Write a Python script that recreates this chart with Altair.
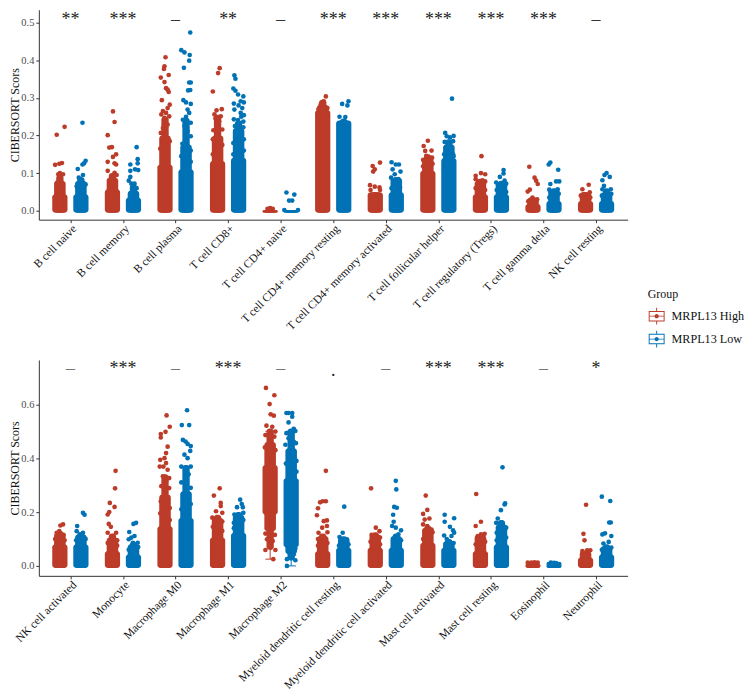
import altair as alt
import pandas as pd

HIGH, LOW = "MRPL13 High", "MRPL13 Low"
RED, BLUE = "#BC3C29", "#0072B5"

cats_top = ["B cell naive", "B cell memory", "B cell plasma", "T cell CD8+", "T cell CD4+ naive",
            "T cell CD4+ memory resting", "T cell CD4+ memory activated", "T cell follicular helper",
            "T cell regulatory (Tregs)", "T cell gamma delta", "NK cell resting"]
cats_bot = ["NK cell activated", "Monocyte", "Macrophage M0", "Macrophage M1", "Macrophage M2",
            "Myeloid dendritic cell resting", "Myeloid dendritic cell activated", "Mast cell activated",
            "Mast cell resting", "Eosinophil", "Neutrophil"]
sig_top = ["**", "***", "–", "**", "–", "***", "***", "***", "***", "***", "–"]
sig_bot = ["–", "***", "–", "***", "–", "·", "–", "***", "***", "–", "*"]

# densely overplotted stretches of each column: upper limit at full, medium and narrow width
top_hi_full = [.044, .057, .123, .132, .002, .268, .049, .106, .044, .018, .026]
top_hi_mid = [.080, .088, .200, .200, .002, .282, .049, .140, .080, .035, .049]
top_hi_nar = [.095, .100, .250, .255, .002, .295, .049, .150, .085, .035, .049]
top_lo_full = [.044, .035, .110, .141, .002, .240, .049, .140, .044, .026, .026]
top_lo_mid = [.080, .053, .176, .220, .002, .240, .088, .176, .075, .057, .049]
top_lo_nar = [.090, .070, .247, .240, .002, .245, .090, .190, .080, .060, .060]

bot_hi_full = [.080, .055, .148, .105, .375, .055, .068, .086, .055, .008, .031]
bot_hi_mid = [.123, .105, .265, .179, .460, .111, .117, .142, .115, .008, .055]
bot_hi_nar = [.130, .120, .340, .190, .510, .120, .125, .150, .115, .008, .055]
bot_lo_full = [.080, .043, .179, .123, .326, .068, .068, .068, .080, .004, .043]
bot_lo_mid = [.117, .080, .277, .190, .437, .105, .111, .092, .154, .004, .074]
bot_lo_nar = [.125, .090, .375, .200, .510, .110, .120, .100, .170, .004, .080]

# lower limits of the dense stretches for Macrophage M2, the only column that lifts off zero
m2_hi_low = [.190, .129, .060]
m2_lo_low = [.068, .043, .020]

# whiskers of Macrophage M2 boxes: (group, low end, high end)
m2_whiskers = [(HIGH, .025, .500), (LOW, .000, .500)]

# sparse points of each column, (score, sideways jitter in category units)
pts_top_hi = [
    [(.202, -.06), (.223, .09), (.122, -.09), (.125, -.01), (.127, .04), (.100, 0), (.097, .06), (.097, -.03), (.075, -.05), (.070, .05)],
    [(.264, .01), (.236, .04), (.201, -.09), (.168, -.06), (.169, -.01), (.150, .07), (.143, .01), (.126, .04), (.123, .07), (.130, -.09), (.106, -.09), (.101, .04), (.095, .08)],
    [(.408, .01), (.384, -.01), (.377, -.02), (.361, .07), (.354, -.08), (.342, -.01), (.326, .02), (.322, .05), (.316, .07), (.294, -.06), (.282, .09), (.273, .05), (.265, -.04), (.260, .02), (.256, -.07), (.247, -.01), (.251, .08), (.229, .05), (.220, -.04), (.207, .02), (.207, -.08), (.185, .09), (.165, -.09)],
    [(.379, .04), (.366, .01), (.317, -.09), (.270, .08), (.267, -.02), (.256, -.06), (.251, .06), (.238, .03), (.245, -.04), (.214, -.08), (.216, .09), (.190, -.09), (.175, .09), (.150, -.09)],
    [(.007, 0), (.005, -.05), (.005, .05)],
    [(.304, .06), (.291, .02), (.282, -.04), (.273, .09), (.270, -.08), (.255, .08), (.250, -.09)],
    [(.128, .09), (.119, -.05), (.110, -.01), (.104, -.04), (.068, -.10), (.064, -.01), (.062, .08), (.055, .09), (.055, -.09)],
    [(.186, 0), (.172, -.08), (.160, .07), (.159, -.05), (.146, -.03), (.141, .08), (.135, -.09), (.125, .09), (.118, -.09)],
    [(.145, .02), (.100, .01), (.093, -.09), (.097, .09), (.084, -.09), (.081, .04), (.078, .09), (.060, -.09), (.055, .09)],
    [(.117, -.07), (.088, .03), (.080, .06), (.071, .09), (.056, -.06), (.051, -.10), (.035, -.01), (.030, .08), (.025, -.09)],
    [(.069, .06), (.057, -.06), (.049, .08), (.044, -.03), (.040, -.09), (.035, .09)],
]
pts_top_lo = [
    [(.234, .03), (.133, .09), (.123, .03), (.111, -.06), (.126, .06), (.088, -.04), (.095, .04), (.070, .09), (.065, -.08)],
    [(.169, .06), (.137, .08), (.126, .08), (.123, -.06), (.108, .09), (.110, .03), (.106, -.06), (.090, -.06), (.080, -.09), (.072, .02), (.072, -.04), (.060, .06)],
    [(.474, .08), (.427, -.09), (.421, -.03), (.414, .07), (.399, .06), (.380, -.04), (.341, .06), (.341, .09), (.320, .04), (.321, .08), (.294, -.05), (.288, 0), (.284, .09), (.269, .03), (.260, .06), (.250, 0), (.242, -.06), (.234, .09), (.225, -.03), (.212, .03), (.198, .09), (.185, 0), (.178, -.07), (.160, .09), (.145, -.09), (.130, .09)],
    [(.360, -.08), (.351, -.06), (.325, -.10), (.319, -.06), (.309, -.01), (.304, .09), (.285, -.09), (.291, .04), (.288, .10), (.280, 0), (.273, .07), (.269, -.08), (.254, .10), (.260, .04), (.243, -.09), (.241, -.01), (.237, .09), (.250, .05), (.222, .09), (.225, -.07), (.190, .10), (.180, -.10), (.160, .10), (.150, -.10)],
    [(.0485, -.09), (.043, .06), (.027, -.04), (.027, .02), (.002, -.13), (.002, .13)],
    [(.291, .09), (.284, -.03), (.280, .07), (.250, -.08), (.249, .03)],
    [(.129, -.09), (.123, -.01), (.123, .05), (.104, .08), (.110, -.07), (.097, -.03), (.088, -.10), (.084, .04), (.071, -.06), (.062, .07), (.060, -.09)],
    [(.298, .06), (.207, -.07), (.199, .09), (.198, -.04), (.195, .02), (.185, .08), (.183, -.08), (.175, 0), (.163, -.04), (.150, .08), (.150, -.09), (.145, .09)],
    [(.108, .04), (.099, .04), (.090, -.03), (.080, .06), (.075, -.10), (.072, .09), (.055, -.09), (.050, .09)],
    [(.128, -.07), (.123, -.10), (.109, .08), (.078, .04), (.078, .10), (.071, -.07), (.056, -.09), (.057, .07), (.052, .01), (.045, .09), (.035, -.09)],
    [(.100, 0), (.090, .06), (.095, -.04), (.081, -.08), (.066, -.05), (.057, -.08), (.057, .08), (.049, .01), (.045, .09), (.040, -.09)],
]
pts_bot_hi = [
    [(.154, .06), (.150, .01), (.129, -.01), (.123, -.06), (.115, .07), (.100, -.09), (.095, .09)],
    [(.353, .06), (.288, .05), (.234, -.05), (.219, .04), (.200, -.06), (.191, -.09), (.156, -.07), (.145, -.03), (.123, .07), (.123, -.09), (.111, .01), (.095, .09), (.085, -.09), (.075, .09)],
    [(.559, .03), (.517, .09), (.498, .01), (.490, -.08), (.477, -.08), (.443, .05), (.419, .02), (.394, -.09), (.400, -.01), (.382, .02), (.369, -.10), (.357, .05), (.369, -.03), (.326, .08), (.333, -.04), (.314, .02), (.296, -.07), (.289, .08), (.265, -.01), (.240, -.08), (.240, .05), (.215, .09), (.195, -.09), (.170, .09)],
    [(.288, .04), (.261, -.07), (.234, .06), (.222, .06), (.203, -.03), (.197, .09), (.179, -.10), (.165, .09), (.145, -.09), (.130, .09)],
    [(.661, -.08), (.634, .08), (.601, -.01), (.563, .01), (.558, .07), (.521, -.07), (.517, .04), (.486, -.09), (.499, .10), (.480, .08), (.440, -.10), (.430, .10), (.025, .06), (.059, -.09), (.059, .10), (.068, .01), (.092, .05), (.099, -.06), (.115, .09), (.120, -.09)],
    [(.353, .06), (.240, 0), (.240, .06), (.236, -.05), (.214, -.09), (.188, -.11), (.169, .08), (.166, .02), (.148, .08), (.142, -.01), (.123, -.08), (.125, .09), (.100, -.09), (.085, .09), (.075, -.09)],
    [(.288, -.08), (.142, .01), (.129, .08), (.115, -.07), (.105, .09), (.090, -.09), (.080, .09)],
    [(.261, -.04), (.208, -.01), (.193, -.09), (.176, .03), (.172, -.06), (.154, -.09), (.148, -.01), (.135, .07), (.125, .09), (.100, -.09)],
    [(.267, -.08), (.164, .01), (.148, -.09), (.119, .08), (.117, .01), (.111, -.05), (.090, .09), (.080, -.09)],
    [(.012, .09), (.012, -.10), (.013, .03), (.012, -.03)],
    [(.227, .01), (.119, -.04), (.095, -.02), (.058, .09), (.058, .03), (.055, -.06)],
]
pts_bot_lo = [
    [(.197, .04), (.190, .07), (.148, -.07), (.129, -.08), (.123, .04), (.117, -.02), (.100, .09), (.095, -.09)],
    [(.160, .05), (.156, 0), (.126, -.08), (.111, .02), (.099, -.09), (.105, -.04), (.086, .08), (.086, -.01), (.070, .09), (.060, -.09)],
    [(.578, .02), (.523, -.08), (.523, .06), (.468, -.06), (.462, -.01), (.453, .03), (.445, .09), (.427, .08), (.413, -.03), (.400, .03), (.369, -.09), (.369, .09), (.340, .05), (.310, -.09), (.290, .09), (.230, .09), (.210, -.09)],
    [(.246, .03), (.218, -.03), (.230, .06), (.218, .08), (.197, .09), (.191, -.08), (.170, .09), (.160, -.09), (.140, -.09)],
    [(.568, -.05), (.568, .02), (.568, -.09), (.533, -.05), (.554, .02), (.493, -.09), (.509, .05), (.500, -.01), (.501, .08), (.474, -.05), (.456, .09), (.450, -.11), (.440, .02), (.461, .05), (.390, .10), (.380, -.10), (.350, .10), (.000, -.08), (.021, .08), (.025, -.08), (.043, .05), (.055, -.04), (.065, .08), (.090, -.08), (.120, .09)],
    [(.220, .01), (.123, -.02), (.107, -.08), (.099, .06), (.080, .09), (.075, -.09), (.090, 0)],
    [(.316, -.01), (.284, 0), (.219, -.04), (.216, .01), (.190, -.06), (.164, -.05), (.148, -.08), (.142, -.01), (.132, .09), (.117, .04), (.095, .09)],
    [(.190, -.08), (.177, .10), (.164, -.08), (.145, .02), (.132, .08), (.123, .10), (.111, .05), (.113, -.09), (.100, -.04), (.085, .09)],
    [(.366, .02), (.232, .07), (.228, .06), (.207, -.01), (.176, -.07), (.160, -.10), (.155, -.02), (.142, .09), (.129, .04), (.123, -.09), (.105, .09), (.095, -.09)],
    [(.012, -.06), (.010, .04), (.007, .10), (.007, -.10), (.011, 0)],
    [(.257, -.09), (.241, .07), (.161, .05), (.161, .08), (.117, -.08), (.121, -.03), (.111, .09), (.083, -.06), (.089, .04), (.068, .09), (.060, -.09)],
]

FONT = "Liberation Serif"
BASE_OFF = {HIGH: -0.2, LOW: 0.2}
WIDTHS = [0.145, 0.11, 0.07]
KEY = ("M-1,-.66H1V.66H-1Z M-.88,-.54V.54H.88V-.54Z M-.88,-.05H.88V.05H-.88Z "
       "M-.06,-1.05H.06V-.66H-.06Z M-.06,.66H.06V1.05H-.06Z "
       "M-.27,0a.27,.27 0 1,1 .54,0a.27,.27 0 1,1 -.54,0Z")


def panel(cats, sig, hi_levels, lo_levels, pts_hi, pts_lo, ydom, yticks, height, base, sig_y, dot_y, whisk,
          legend, dash_col):
    rects, pts, whisk_rows = [], [], []
    for group, levels, ptlist in ((HIGH, hi_levels, pts_hi), (LOW, lo_levels, pts_lo)):
        for i in range(11):
            c = i + BASE_OFF[group]
            for lv, hw in zip(levels, WIDTHS):
                low = base
                if whisk and i == 4:
                    low = (m2_hi_low if group == HIGH else m2_lo_low)[WIDTHS.index(hw)]
                rects.append(dict(g=group, x=c - hw, x2=c + hw, y=low, y2=lv[i]))
            for v, j in ptlist[i]:
                pts.append(dict(g=group, x=c + j, y=v))
    if whisk:
        for g, a, b in m2_whiskers:
            c = 4 + BASE_OFF[g]
            whisk_rows.append(dict(g=g, x=c, x2=c, y=a, y2=b))
            whisk_rows.append(dict(g=g, x=c - .09, x2=c + .09, y=a, y2=a))
            whisk_rows.append(dict(g=g, x=c - .09, x2=c + .09, y=b, y2=b))
    names = "[" + ",".join("'%s'" % c for c in cats) + "]"
    xs = alt.X("x:Q", scale=alt.Scale(domain=[-0.6, 10.6], nice=False, zero=False),
               axis=alt.Axis(values=list(range(11)), labelExpr=names + "[datum.value]", title=None, grid=False,
                             labelAngle=-45, labelAlign="right", labelBaseline="top", labelFontSize=11.6,
                             labelColor="#111111", labelFont=FONT, labelOverlap=False, labelBound=False,
                             labelFlush=False, tickSize=3, tickColor="#333333", domainColor="#333333",
                             labelPadding=0))
    ys = alt.Y("y:Q", scale=alt.Scale(domain=ydom, nice=False, zero=False),
               axis=alt.Axis(values=yticks, format=".1f", title="CIBERSORT Scors", grid=False, labelFontSize=10.5,
                             labelColor="#4D4D4D", labelFont=FONT, tickSize=3, tickColor="#333333",
                             domainColor="#333333", titleFont=FONT, titleFontSize=12, titleFontWeight="normal",
                             titleColor="#111111", titlePadding=-1, labelPadding=2))
    col = alt.Color("g:N", scale=alt.Scale(domain=[HIGH, LOW], range=[RED, BLUE]), legend=None)
    layers = [
        alt.Chart(pd.DataFrame(rects)).mark_rect(cornerRadius=3).encode(x=xs, x2="x2:Q", y=ys, y2="y2:Q", color=col),
        alt.Chart(pd.DataFrame(pts)).mark_circle(size=22, opacity=1).encode(x=xs, y=ys, color=col),
    ]
    if whisk:
        layers.insert(0, alt.Chart(pd.DataFrame(whisk_rows)).mark_rule(strokeWidth=1).encode(
            x=xs, x2="x2:Q", y=ys, y2="y2:Q", color=col))
    if legend:
        # box-plot key for the legend, drawn by a thin unfilled layer under the filled points
        first = pd.DataFrame([dict(g=HIGH, x=0 - .2, y=.01), dict(g=LOW, x=0 + .2, y=.01)])
        layers.insert(0, alt.Chart(first).mark_point(filled=False, size=1).encode(
            x=xs, y=ys,
            stroke=alt.Stroke("g:N", scale=alt.Scale(domain=[HIGH, LOW], range=[RED, BLUE]), title="Group",
                              legend=alt.Legend(orient="none", legendX=612, legendY=281, symbolType=KEY,
                                                symbolSize=256, symbolStrokeWidth=0, symbolOpacity=1,
                                                symbolOffset=1, labelOffset=7,
                                                titleFont=FONT, titleFontSize=12, titleFontWeight="normal",
                                                titleColor="#111111", labelFont=FONT, labelFontSize=12.2,
                                                labelColor="#111111", rowPadding=5, titlePadding=7))))
    txt = pd.DataFrame(dict(x=list(range(11)), s=sig, y=[dot_y if s == "·" else sig_y for s in sig],
                            c=[dash_col if s == "–" else "#222222" for s in sig]))
    layers.append(alt.Chart(txt).mark_text(font=FONT, fontSize=18, baseline="middle", align="center").encode(
        x=xs, y=ys, text="s:N", color=alt.Color("c:N", scale=None)))
    return alt.layer(*layers).properties(width=591.8, height=height)


top = panel(cats_top, sig_top, [top_hi_full, top_hi_mid, top_hi_nar], [top_lo_full, top_lo_mid, top_lo_nar],
            pts_top_hi, pts_top_lo, [-0.0238, 0.5344], [0, .1, .2, .3, .4, .5], 211, -0.0055, 0.506, 0.506, False,
            True, "#333333")
bot = panel(cats_bot, sig_bot, [bot_hi_full, bot_hi_mid, bot_hi_nar], [bot_lo_full, bot_lo_mid, bot_lo_nar],
            pts_bot_hi, pts_bot_lo, [-0.037, 0.765], [0, .2, .4, .6], 217, -0.0075, 0.732, 0.706, True, False,
            "#777777")

chart = alt.vconcat(top, bot, spacing=26).properties(
    padding={"left": 0, "top": 0, "right": 0, "bottom": 0}
).configure_view(stroke=None)

chart.save("out.html", embed_options={"renderer": "svg", "actions": False})
